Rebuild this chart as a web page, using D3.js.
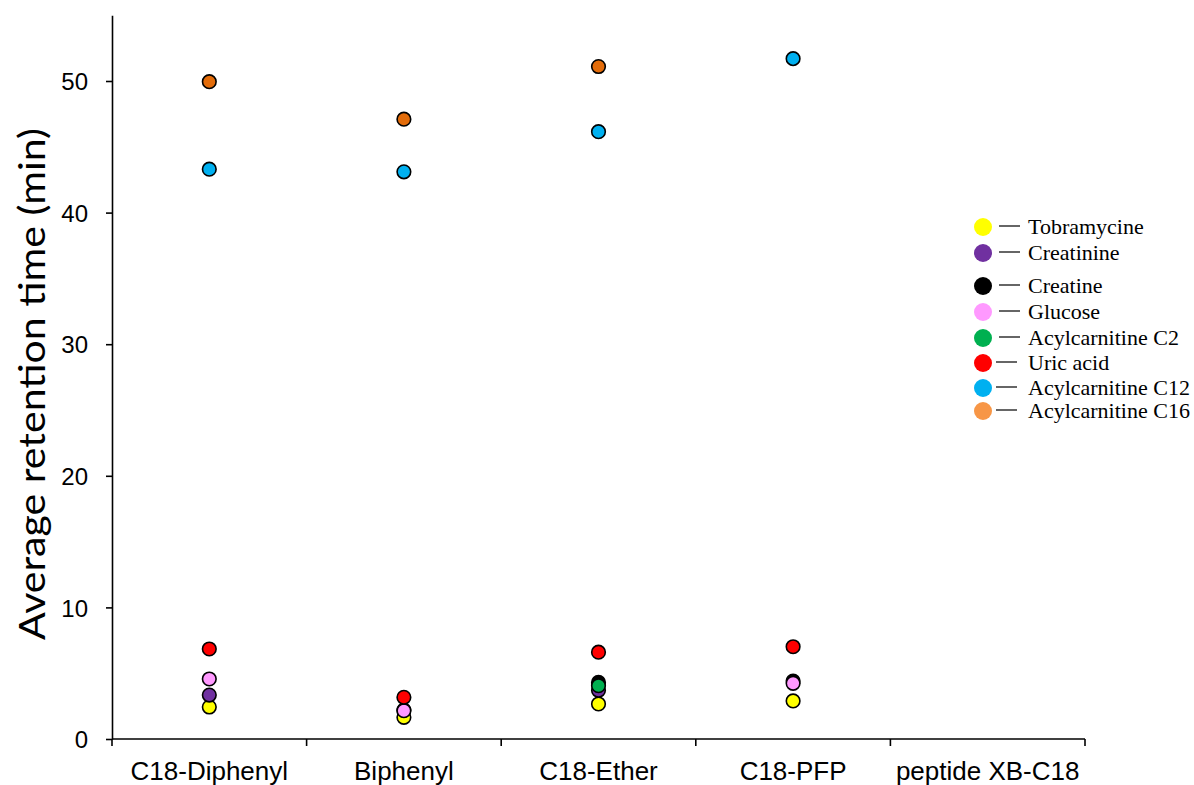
<!DOCTYPE html>
<html>
<head>
<meta charset="utf-8">
<script src="https://cdn.jsdelivr.net/npm/d3@7"></script>
<style>
  html, body { margin: 0; padding: 0; background: #fff; }
  svg { display: block; }
</style>
</head>
<body>
<svg id="chart" width="1194" height="785"></svg>
<script>
// Stationary phases (x categories)
const columns = ["C18-Diphenyl", "Biphenyl", "C18-Ether", "C18-PFP", "peptide XB-C18"];

// Compounds in drawing order
const compounds = ["Tobramycine", "Creatinine", "Creatine", "Glucose",
                   "Acylcarnitine C2", "Uric acid", "Acylcarnitine C12", "Acylcarnitine C16"];

// Average retention time (min) per compound, one value per column (null = not eluted)
const tobramycine     = [2.43, 1.65, 2.66, 2.89, null];
const creatinine      = [3.34, 2.2,  3.7,  null, null];
const creatine        = [null, null, 4.3,  4.4,  null];
const glucose         = [4.56, 2.15, null, 4.23, null];
const acylcarnitineC2 = [null, null, 4.05, null, null];
const uricAcid        = [6.84, 3.17, 6.6,  7.01, null];
const acylcarnitineC12 = [43.3, 43.1, 46.15, 51.7, null];
const acylcarnitineC16 = [49.95, 47.1, 51.1, null, null];

const seriesValues = [tobramycine, creatinine, creatine, glucose,
                      acylcarnitineC2, uricAcid, acylcarnitineC12, acylcarnitineC16];

const pointColors  = ["#FFFF00", "#7030A0", "#000000", "#FF99FF",
                      "#00B050", "#FF0000", "#00B0F0", "#E36C0A"];
const legendColors = ["#FFFF00", "#7030A0", "#000000", "#FF99FF",
                      "#00B050", "#FF0000", "#00B0F0", "#F79646"];

const yTicks = [0, 10, 20, 30, 40, 50];

const svg = d3.select("#chart");
const plotLeft = 112, plotRight = 1085, plotTop = 15, plotBottom = 739;

const x = d3.scaleBand().domain(columns).range([plotLeft, plotRight]).padding(0);
const y = d3.scaleLinear().domain([0, 55]).range([plotBottom, plotTop + 0.2]);

// Y axis
const yAxis = svg.append("g")
  .attr("transform", `translate(${plotLeft},0)`)
  .call(d3.axisLeft(y).tickValues(yTicks).tickSize(6).tickPadding(18).tickSizeOuter(0));
yAxis.select(".domain").attr("stroke", "#000").attr("stroke-width", 1.6);
yAxis.selectAll(".tick line").attr("stroke", "#000").attr("stroke-width", 1.6);
yAxis.selectAll(".tick text")
  .attr("font-family", "Liberation Sans, Arial, sans-serif")
  .attr("font-size", 24).attr("fill", "#000").attr("dy", "0.36em");

// X axis: ticks sit on band boundaries, labels in band centres
const xAxisG = svg.append("g").attr("transform", `translate(0,${plotBottom})`);
xAxisG.append("line")
  .attr("x1", plotLeft).attr("x2", plotRight).attr("y1", 0).attr("y2", 0)
  .attr("stroke", "#000").attr("stroke-width", 1.6);
const boundaries = columns.map(c => x(c)).concat([x(columns[columns.length - 1]) + x.bandwidth()]);
xAxisG.selectAll("line.tk").data(boundaries).join("line")
  .attr("class", "tk")
  .attr("x1", d => d).attr("x2", d => d).attr("y1", 0).attr("y2", 7)
  .attr("stroke", "#000").attr("stroke-width", 1.6);
xAxisG.selectAll("text").data(columns).join("text")
  .attr("x", d => x(d) + x.bandwidth() / 2)
  .attr("y", 41)
  .attr("text-anchor", "middle")
  .attr("font-family", "Liberation Sans, Arial, sans-serif")
  .attr("font-size", 26).attr("fill", "#000")
  .text(d => d);

// Y axis title
svg.append("text")
  .attr("transform", `translate(45,384) rotate(-90)`)
  .attr("text-anchor", "middle")
  .attr("font-family", "Lato, 'Open Sans', sans-serif")
  .attr("font-size", 36).attr("fill", "#000")
  .attr("textLength", 512).attr("lengthAdjust", "spacingAndGlyphs")
  .text("Average retention time (min)");

// Points
const pts = svg.append("g");
seriesValues.forEach((vals, i) => {
  pts.selectAll(null)
    .data(vals.map((v, j) => ({ col: columns[j], v })).filter(d => d.v != null))
    .join("circle")
    .attr("cx", d => x(d.col) + x.bandwidth() / 2)
    .attr("cy", d => y(d.v))
    .attr("r", 6.8)
    .attr("fill", pointColors[i])
    .attr("stroke", "#000")
    .attr("stroke-width", 1.6);
});

// Legend
const legendRows = [227, 253, 286, 312, 338, 363, 388, 411];
const legend = svg.append("g");
compounds.forEach((name, i) => {
  const g = legend.append("g").attr("transform", `translate(983,${legendRows[i]})`);
  g.append("circle").attr("r", 9).attr("fill", legendColors[i]);
  g.append("line").attr("x1", i >= 5 ? 13 : 16).attr("x2", i >= 5 ? 34 : 37)
    .attr("y1", -1).attr("y2", -1)
    .attr("stroke", "#333").attr("stroke-width", 1.5);
  g.append("text").attr("x", 45).attr("y", 7)
    .attr("font-family", "Liberation Serif, 'Times New Roman', serif")
    .attr("font-size", 22).attr("fill", "#000")
    .text(name);
});
</script>
</body>
</html>
